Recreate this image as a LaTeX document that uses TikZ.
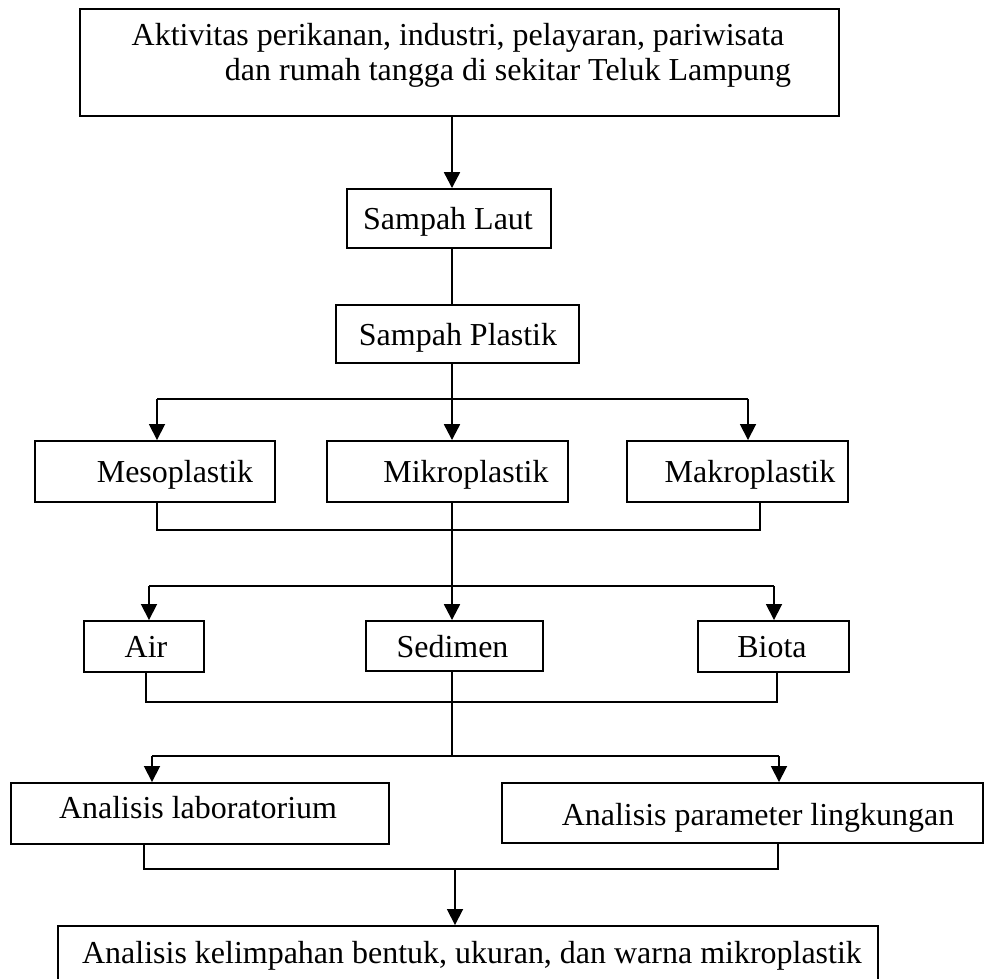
\documentclass[tikz,border=0pt]{standalone}
\usepackage{fontspec}
\setmainfont{Liberation Serif}
\usetikzlibrary{arrows.meta, positioning}

\begin{document}
\begin{tikzpicture}[x=0.02cm, y=-0.02cm, >={Triangle[width=9pt,length=9pt]},
    box/.style 2 args={draw, line width=1.1pt, minimum width=#1*0.02cm, minimum height=#2*0.02cm, inner sep=0pt},
    txt/.style={anchor=base, inner sep=0pt, font=\fontsize{18.2}{22}\selectfont},
    link/.style={line width=1pt},
    spine/.style={line width=1.3pt}]
  \useasboundingbox (0,0) rectangle (984,978);
  % boxes
  \node[box={759}{107}, line width=1.5pt] (akt) at (459.5,62.5) {};
  \node[box={204}{59}] (laut) at (449,218.5) {};
  \node[box={243}{58}] (plastik) at (457.5,334) {};
  \node[box={240}{61}] (meso) at (155,471.5) {};
  \node[box={241}{61}] (mikro) at (447.5,471.5) {};
  \node[box={221}{61}] (makro) at (737.5,471.5) {};
  \node[box={120}{51}] (air) at (144,646.5) {};
  \node[box={177}{50}] (sedimen) at (454.5,646) {};
  \node[box={151}{51}] (biota) at (773.5,646.5) {};
  \node[box={378}{61}] (lab) at (200,813.5) {};
  \node[box={481}{60}] (param) at (742.5,813) {};
  \node[box={820}{74}] (hasil) at (468,963) {};
  % texts
  \node[txt] (akt1) at (458,45) {Aktivitas perikanan, industri, pelayaran, pariwisata};
  \node[txt] (akt2) at (508,80) {dan rumah tangga di sekitar Teluk Lampung};
  \node[txt] (lautT) at (448,229) {Sampah Laut};
  \node[txt] (plastikT) at (458,345) {Sampah Plastik};
  \node[txt] (mesoT) at (175,482) {Mesoplastik};
  \node[txt] (mikroT) at (466,482) {Mikroplastik};
  \node[txt] (makroT) at (750,482) {Makroplastik};
  \node[txt] (airT) at (146,657) {Air};
  \node[txt] (sedimenT) at (452.5,657) {Sedimen};
  \node[txt] (biotaT) at (772,657) {Biota};
  \node[txt] (labT) at (198,818) {Analisis laboratorium};
  \node[txt] (paramT) at (758,825) {Analisis parameter lingkungan};
  \node[txt] (hasilT) at (472,963) {Analisis kelimpahan bentuk, ukuran, dan warna mikroplastik};
  % junction points
  \coordinate (s1) at (452,399);
  \coordinate (b1l) at (157,399);
  \coordinate (b1r) at (748,399);
  \coordinate (m1l) at (157,530);
  \coordinate (m1r) at (760,530);
  \coordinate (b2l) at (149,586);
  \coordinate (b2r) at (774,586);
  \coordinate (m2l) at (146,702);
  \coordinate (m2r) at (777,702);
  \coordinate (s3) at (452,756);
  \coordinate (b3l) at (152,756);
  \coordinate (b3r) at (779,756);
  \coordinate (m3l) at (144,869);
  \coordinate (m3r) at (778,869);
  \coordinate (m3c) at (455,869);
  % main spine
  \draw[->,spine] (akt.south -| s1) -- (laut.north -| s1);
  \draw[spine] (laut.south -| s1) -- (plastik.north -| s1);
  \draw[spine] (plastik.south -| s1) -- (s1);
  % plastic types
  \draw[link] (b1l) -- (b1r);
  \draw[->,link] (b1l) -- (meso.north -| b1l);
  \draw[->,spine] (s1) -- (mikro.north -| s1);
  \draw[->,link] (b1r) -- (makro.north -| b1r);
  \draw[link] (meso.south -| m1l) -- (m1l) -- (m1r) -- (makro.south -| m1r);
  \draw[->,spine] (mikro.south -| s1) -- (sedimen.north -| s1);
  % samples
  \draw[link] (b2l) -- (b2r);
  \draw[->,link] (b2l) -- (air.north -| b2l);
  \draw[->,link] (b2r) -- (biota.north -| b2r);
  \draw[link] (air.south -| m2l) -- (m2l) -- (m2r) -- (biota.south -| m2r);
  \draw[spine] (sedimen.south -| s3) -- (s3);
  % analyses
  \draw[link] (b3l) -- (b3r);
  \draw[->,link] (b3l) -- (lab.north -| b3l);
  \draw[->,link] (b3r) -- (param.north -| b3r);
  \draw[link] (lab.south -| m3l) -- (m3l) -- (m3r) -- (param.south -| m3r);
  \draw[->,link] (m3c) -- (hasil.north -| m3c);
\end{tikzpicture}
\end{document}
